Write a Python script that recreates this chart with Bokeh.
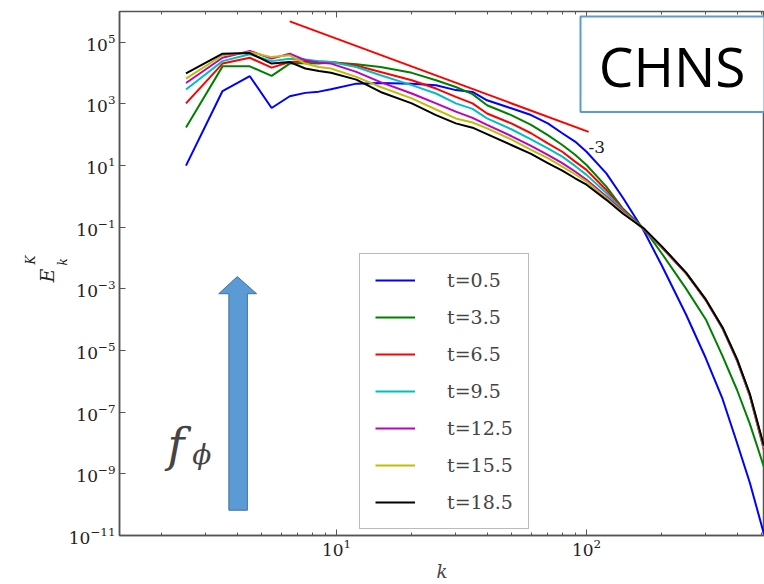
import numpy as np
from bokeh.plotting import figure
from bokeh.models import (Range1d, FixedTicker, LogAxis, LogTickFormatter, Label, Title,
                          Legend, LegendItem, BoxAnnotation, PolyAnnotation, CustomJSTickFormatter)
from bokeh.embed import file_html
from bokeh.resources import INLINE

# ---------------- data ----------------
k = [2.5, 3.5, 4.5, 5.5, 6.5, 7.5, 8.5, 9.5, 12, 15, 20, 25, 30, 35, 40, 50, 60, 70,
     80, 90, 100, 120, 140, 170, 200, 250, 300, 350, 400, 450, 512]

# log10(E_k^K) for each time
logE_t0_5 = [1.00, 3.42, 3.90, 2.87, 3.25, 3.36, 3.40, 3.48, 3.66, 3.68, 3.66, 3.61, 3.45,
             3.39, 3.12, 2.86, 2.64, 2.37, 2.05, 1.78, 1.45, 0.75, -0.05, -1.14, -2.24,
             -3.83, -5.25, -6.57, -8.00, -9.29, -10.94]
logE_t3_5 = [2.24, 4.22, 4.22, 3.91, 4.31, 4.33, 4.31, 4.35, 4.29, 4.20, 4.01, 3.77, 3.55,
             3.32, 2.96, 2.64, 2.32, 1.99, 1.67, 1.35, 1.02, 0.32, -0.40, -1.05, -1.85,
             -2.99, -3.99, -5.18, -6.28, -7.38, -8.77]
logE_t6_5 = [3.02, 4.31, 4.50, 4.18, 4.36, 4.39, 4.38, 4.36, 4.25, 4.04, 3.77, 3.50, 3.23,
             3.02, 2.69, 2.37, 2.05, 1.72, 1.45, 1.13, 0.86, 0.21, -0.43, -1.08, -1.66,
             -2.50, -3.37, -4.29, -5.33, -6.48, -8.22]
logE_t9_5 = [3.47, 4.39, 4.61, 4.39, 4.47, 4.44, 4.39, 4.36, 4.20, 3.93, 3.61, 3.34, 3.02,
             2.84, 2.53, 2.18, 1.85, 1.56, 1.29, 0.99, 0.70, 0.11, -0.46, -1.08, -1.65,
             -2.48, -3.36, -4.28, -5.31, -6.46, -8.16]
logE_t12_5 = [3.68, 4.50, 4.72, 4.47, 4.63, 4.42, 4.34, 4.31, 4.04, 3.71, 3.34, 3.02, 2.75,
              2.55, 2.32, 1.96, 1.64, 1.35, 1.08, 0.81, 0.54, 0.00, -0.50, -1.08, -1.64,
              -2.48, -3.36, -4.26, -5.30, -6.44, -8.12]
logE_t15_5 = [3.82, 4.58, 4.68, 4.52, 4.58, 4.31, 4.20, 4.15, 3.88, 3.55, 3.18, 2.82, 2.53,
              2.40, 2.21, 1.85, 1.51, 1.24, 0.97, 0.72, 0.48, -0.05, -0.53, -1.06, -1.63,
              -2.47, -3.34, -4.25, -5.28, -6.43, -8.11]
logE_t18_5 = [3.99, 4.63, 4.65, 4.31, 4.36, 4.15, 4.07, 4.01, 3.79, 3.39, 3.02, 2.64, 2.37,
              2.23, 2.02, 1.67, 1.38, 1.08, 0.84, 0.59, 0.38, -0.11, -0.56, -1.05, -1.62,
              -2.47, -3.34, -4.25, -5.28, -6.41, -8.09]

series_labels = ["t=0.5", "t=3.5", "t=6.5", "t=9.5", "t=12.5", "t=15.5", "t=18.5"]
series_logE = [logE_t0_5, logE_t3_5, logE_t6_5, logE_t9_5, logE_t12_5, logE_t15_5, logE_t18_5]
series_colors = ["#0000ff", "#008000", "#ff0000", "#00bfbf", "#bf00bf", "#bfbf00", "#000000"]

# -3 reference slope line
ref_k = [6.5, 102]
ref_E = [4.8e5, 1.24e2]

y_ticks = [1e-11, 1e-9, 1e-7, 1e-5, 1e-3, 1e-1, 1e1, 1e3, 1e5]
x_ticks = [10, 100]
x_minor = [2, 3, 4, 5, 6, 7, 8, 9, 20, 30, 40, 50, 60, 70, 80, 90, 200, 300, 400, 500]

# ---------------- figure ----------------
p = figure(width=764, height=584, x_axis_type="log", y_axis_type="log",
           x_range=Range1d(1.355, 515), y_range=Range1d(1e-11, 1e6),
           output_backend="svg", toolbar_location=None,
           min_border_left=119, min_border_right=0, min_border_top=11, min_border_bottom=47)
p.grid.visible = False
p.background_fill_color = "white"
p.border_fill_color = "white"
p.outline_line_color = "#555555"
p.outline_line_width = 1.5

AX = "#555555"
for ax in (p.xaxis[0], p.yaxis[0]):
    ax.axis_line_color = AX
    ax.axis_line_width = 1.5
    ax.major_tick_line_color = AX
    ax.minor_tick_line_color = AX
    ax.major_tick_in = 6
    ax.major_tick_out = 0
    ax.minor_tick_in = 3
    ax.minor_tick_out = 0
    ax.major_label_text_font = "DejaVu Serif"
    ax.major_label_text_font_size = "17px"
    ax.major_label_text_color = "#222222"
    ax.formatter = LogTickFormatter()

p.xaxis[0].ticker = FixedTicker(ticks=x_ticks, minor_ticks=x_minor)
p.yaxis[0].ticker = FixedTicker(ticks=y_ticks, minor_ticks=[])
p.xaxis[0].major_label_standoff = 3
p.yaxis[0].major_label_standoff = 4

# x axis label
p.xaxis[0].axis_label = "k"
p.xaxis[0].axis_label_text_font = "DejaVu Serif"
p.xaxis[0].axis_label_text_font_style = "italic"
p.xaxis[0].axis_label_text_font_size = "18px"
p.xaxis[0].axis_label_standoff = 2

# y axis label E_k^K built from rotated titles on the left (nearest first)
for txt, size, off, so in (("k", "12px", 270, -8), ("E", "19px", 253, 0), ("K", "12px", 271, -8)):
    p.add_layout(Title(text=txt, align="left", offset=off, standoff=so,
                       text_font="DejaVu Serif", text_font_style="italic",
                       text_font_size=size, text_color="#222222"), "left")

# top axis: inward ticks only
top = LogAxis(ticker=FixedTicker(ticks=x_ticks, minor_ticks=x_minor),
              formatter=CustomJSTickFormatter(code="return ''"),
              axis_line_color=None, major_tick_line_color=AX, minor_tick_line_color=AX,
              major_tick_in=6, major_tick_out=0, minor_tick_in=3, minor_tick_out=0,
              major_label_standoff=0, major_label_text_font_size="1px")
p.add_layout(top, "above")

# ---------------- curves ----------------
items = []
for lab, le, col in zip(series_labels, series_logE, series_colors):
    E = [10.0 ** v for v in le]
    r = p.line(k, E, line_color=col, line_width=2)
    items.append(LegendItem(label=lab, renderers=[r]))

p.line(ref_k, ref_E, line_color="#ff0000", line_width=2)
p.add_layout(Label(x=110, y=10 ** 1.6, text="-3", text_font="DejaVu Serif", text_font_size="17px",
                   text_align="center", text_baseline="middle", text_color="#222222"))

legend = Legend(items=items, location=(240, 6), border_line_color="#777777",
                border_line_width=1, background_fill_color="white", background_fill_alpha=1,
                label_text_font="DejaVu Serif", label_text_font_size="19px",
                glyph_width=40, glyph_height=20, label_height=20, spacing=15,
                padding=15, label_standoff=32, margin=0)
p.add_layout(legend, "center")

# ---------------- CHNS box ----------------
p.add_layout(BoxAnnotation(left=94.6, right=515, bottom=10 ** 2.74, top=10 ** 5.84,
                           fill_color="white", fill_alpha=1, line_color="#5B9BD5",
                           line_alpha=1, line_width=2))
p.add_layout(Label(x=220, y=10 ** 4.255, text="CHNS", text_font="Open Sans",
                   text_font_size="55px", text_align="center", text_baseline="middle",
                   text_color="black"))

# ---------------- f_phi arrow ----------------
ax_k = [4.01, 4.79, 4.40, 4.40, 3.71, 3.71, 3.38]
ax_E = [10 ** -2.60, 10 ** -3.156, 10 ** -3.156, 10 ** -10.18, 10 ** -10.18, 10 ** -3.156, 10 ** -3.156]
p.add_layout(PolyAnnotation(xs=ax_k, ys=ax_E, fill_color="#5B9BD5", fill_alpha=1,
                            line_color="#41719C", line_alpha=1, line_width=1))
p.add_layout(Label(x=2.11, y=10 ** -8.06, text="f", text_font="DejaVu Serif",
                   text_font_style="italic", text_font_size="46px", text_baseline="alphabetic"))
p.add_layout(Label(x=2.65, y=10 ** -8.38, text="ϕ", text_font="DejaVu Serif",
                   text_font_style="italic", text_font_size="28px", text_baseline="alphabetic"))

open("out.html", "w").write(file_html(p, INLINE))
